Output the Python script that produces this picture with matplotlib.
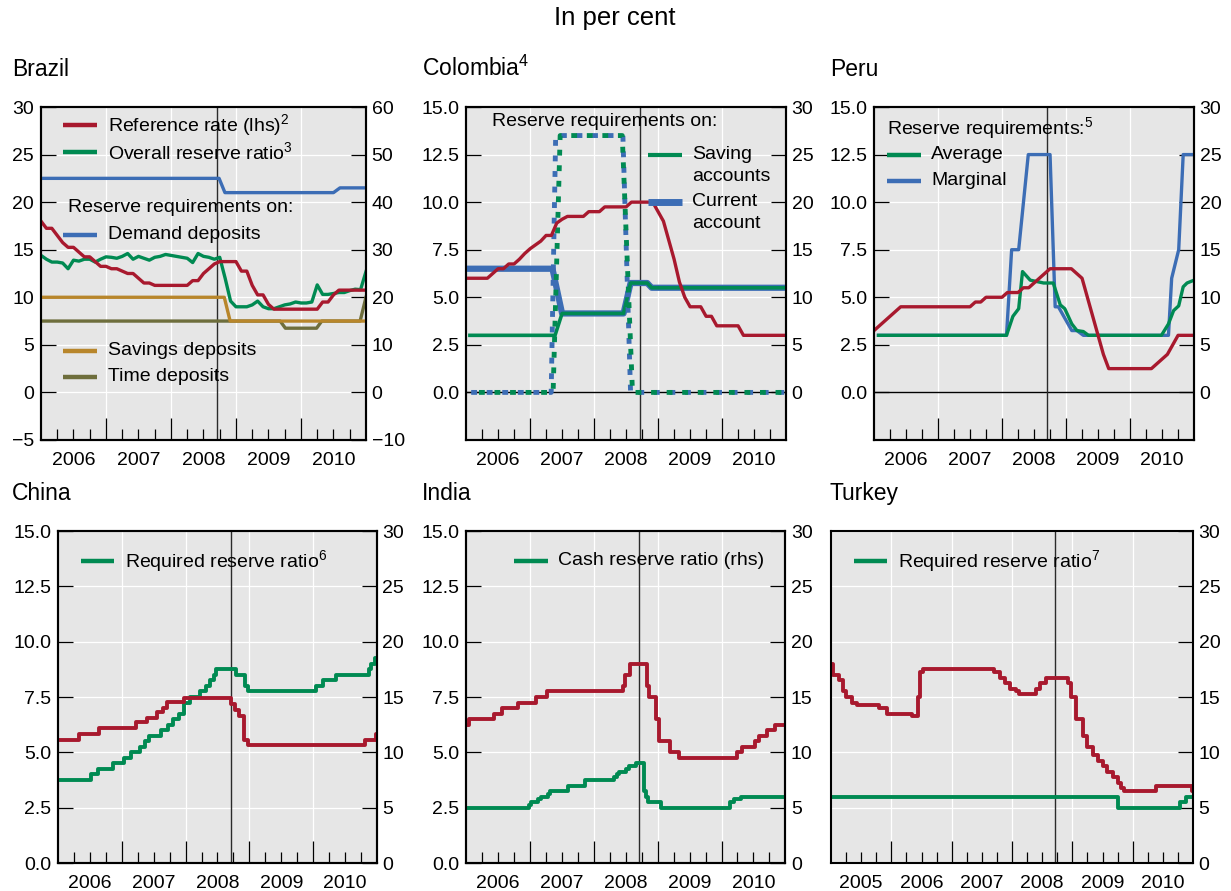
import numpy as np
import matplotlib
matplotlib.use("Agg")
import matplotlib.pyplot as plt

plt.rcParams["font.family"] = ["Liberation Sans", "DejaVu Sans"]
plt.rcParams["mathtext.fontset"] = "custom"
plt.rcParams["mathtext.rm"] = "Liberation Sans"

RED = "#A8192E"
GREEN = "#008A52"
BLUE = "#3C6DB5"
GOLD = "#B8862B"
OLIVE = "#6E6E3C"
BG = "#E6E6E6"
FS = 14
LEHMAN = 2008.71  # mid-September 2008

# ---------------- Brazil (monthly from Jan 2006) ----------------
brazil_reference_rate = [
    18.0, 17.25, 17.25, 16.5, 15.75, 15.25, 15.25, 14.75, 14.25, 14.25, 13.75, 13.25,
    13.25, 13.0, 13.0, 12.75, 12.5, 12.5, 12.0, 11.5, 11.5, 11.25, 11.25, 11.25,
    11.25, 11.25, 11.25, 11.25, 11.75, 11.75, 12.5, 13.0, 13.5, 13.75, 13.75, 13.75,
    13.75, 12.75, 12.75, 11.25, 10.25, 10.25, 9.25, 8.75, 8.75, 8.75, 8.75, 8.75,
    8.75, 8.75, 8.75, 8.75, 9.5, 9.5, 10.25, 10.75, 10.75, 10.75, 10.75, 10.75,
    10.75]
brazil_overall_reserve_ratio = [
    28.8, 28.0, 27.4, 27.4, 27.2, 26.0, 27.8, 27.6, 28.0, 28.0, 27.4, 28.0,
    28.5, 28.4, 28.2, 28.6, 29.2, 28.0, 28.6, 28.2, 27.8, 28.4, 28.6, 29.0,
    28.8, 28.6, 28.4, 28.2, 27.3, 29.2, 28.6, 28.4, 28.0, 28.4, 24.0, 19.2,
    18.0, 18.0, 18.0, 18.4, 19.2, 18.0, 17.6, 17.6, 18.0, 18.4, 18.6, 19.0,
    18.8, 18.8, 19.0, 22.6, 20.6, 20.6, 20.8, 21.0, 21.0, 21.4, 21.7, 21.6,
    25.4]
brazil_demand_dates = [2006.0, 2008.74, 2008.83, 2010.50, 2010.60, 2011.0]
brazil_demand = [45, 45, 42, 42, 43, 43]
brazil_savings_dates = [2006.0, 2008.82, 2008.91, 2011.0]
brazil_savings = [20, 20, 15, 15]
brazil_time_dates = [2006.0, 2009.68, 2009.76, 2010.24, 2010.32, 2010.91, 2011.0]
brazil_time = [15, 15, 13.5, 13.5, 15, 15, 20]

# ---------------- Colombia ----------------
colombia_policy_rate = [
    6.0, 6.0, 6.0, 6.0, 6.0, 6.25, 6.5, 6.5, 6.75, 6.75, 7.0, 7.3,
    7.55, 7.75, 7.95, 8.25, 8.25, 8.9, 9.1, 9.25, 9.25, 9.25, 9.25, 9.5,
    9.5, 9.5, 9.75, 9.75, 9.75, 9.75, 9.75, 10.0, 10.0, 10.0, 10.0, 10.0,
    9.5, 9.0, 8.0, 7.0, 5.8, 5.0, 4.5, 4.5, 4.5, 4.0, 4.0, 3.5,
    3.5, 3.5, 3.5, 3.5, 3.0, 3.0, 3.0, 3.0, 3.0, 3.0, 3.0, 3.0,
    3.0]
colombia_saving_dates = [2006.06, 2007.39, 2007.50, 2008.46, 2008.57, 2008.83, 2008.90, 2011.0]
colombia_saving = [6.0, 6.0, 8.3, 8.3, 11.5, 11.5, 11.0, 11.0]
colombia_current_dates = [2006.04, 2007.35, 2007.50, 2008.46, 2008.57, 2008.83, 2008.90, 2011.0]
colombia_current = [13.0, 13.0, 8.3, 8.3, 11.5, 11.5, 11.0, 11.0]
colombia_marg_current_dates = [2006.08, 2007.33, 2007.40, 2008.45, 2008.57, 2011.0]
colombia_marg_current = [0, 0, 27, 27, 0, 0]
colombia_marg_saving_dates = [2006.08, 2007.36, 2007.47, 2008.44, 2008.60, 2011.0]
colombia_marg_saving = [0, 0, 27, 27, 0, 0]

# ---------------- Peru ----------------
peru_policy_rate = [
    3.25, 3.5, 3.75, 4.0, 4.25, 4.5,
    4.5, 4.5, 4.5, 4.5, 4.5, 4.5, 4.5, 4.5, 4.5, 4.5, 4.5, 4.5, 4.5,
    4.75, 4.75, 5.0, 5.0, 5.0, 5.0,
    5.25, 5.25, 5.25, 5.5, 5.5, 5.75,
    6.0, 6.25, 6.5, 6.5, 6.5, 6.5, 6.5,
    6.25, 6.0, 5.0, 4.0, 3.0, 2.0,
    1.25, 1.25, 1.25, 1.25, 1.25, 1.25, 1.25, 1.25, 1.25,
    1.5, 1.75, 2.0, 2.5, 3.0, 3.0, 3.0, 3.0]
peru_average_dates = [2006.07, 2008.07, 2008.17, 2008.26, 2008.32, 2008.44, 2008.65, 2008.80,
                      2008.91, 2008.98, 2009.09, 2009.17, 2009.27, 2009.35, 2010.49, 2010.60,
                      2010.68, 2010.76, 2010.83, 2010.89, 2011.0]
peru_average = [6.0, 6.0, 8.0, 8.8, 12.7, 11.8, 11.5, 11.5,
                9.2, 8.8, 7.2, 6.5, 6.4, 6.0, 6.0, 7.2,
                8.6, 9.1, 11.1, 11.5, 11.8]
peru_marginal_dates = [2006.07, 2008.07, 2008.15, 2008.26, 2008.41, 2008.75, 2008.83, 2008.88,
                       2009.09, 2009.17, 2009.27, 2010.60, 2010.65, 2010.76, 2010.83, 2011.0]
peru_marginal = [6, 6, 15, 15, 25, 25, 9, 9,
                 6.5, 6.5, 6.0, 6.0, 12, 15, 25, 25]

# ---------------- China (step changes) ----------------
china_rate_dates = [2006.0, 2006.33, 2006.64, 2007.22, 2007.39, 2007.56, 2007.65, 2007.71,
                    2007.98, 2008.71, 2008.77, 2008.83, 2008.91, 2008.98, 2010.81, 2010.99]
china_rate = [5.58, 5.85, 6.12, 6.39, 6.57, 6.84, 7.02, 7.29,
              7.47, 7.20, 6.93, 6.66, 5.58, 5.31, 5.56, 5.81]
china_rrr_dates = [2006.0, 2006.51, 2006.62, 2006.87, 2007.04, 2007.15, 2007.29, 2007.37,
                   2007.43, 2007.62, 2007.73, 2007.81, 2007.90, 2007.98, 2008.07, 2008.23,
                   2008.32, 2008.38, 2008.45, 2008.48, 2008.79, 2008.93, 2008.98, 2010.05,
                   2010.15, 2010.36, 2010.88, 2010.91, 2010.97]
china_rrr = [7.5, 8.0, 8.5, 9.0, 9.5, 10.0, 10.5, 11.0,
             11.5, 12.0, 12.5, 13.0, 13.5, 14.5, 15.0, 15.5,
             16.0, 16.5, 17.0, 17.5, 17.0, 16.0, 15.5, 16.0,
             16.5, 17.0, 17.5, 18.0, 18.5]

# ---------------- India (step changes) ----------------
india_rate_dates = [2006.0, 2006.04, 2006.43, 2006.56, 2006.82, 2007.09, 2007.27, 2008.46,
                    2008.49, 2008.57, 2008.83, 2008.86, 2008.97, 2009.02, 2009.19, 2009.33,
                    2010.24, 2010.32, 2010.53, 2010.58, 2010.71, 2010.84]
india_rate = [6.25, 6.5, 6.75, 7.0, 7.25, 7.5, 7.75, 8.0,
              8.5, 9.0, 8.0, 7.5, 6.5, 5.5, 5.0, 4.75,
              5.0, 5.25, 5.5, 5.75, 6.0, 6.25]
india_crr_dates = [2006.0, 2006.98, 2007.02, 2007.13, 2007.17, 2007.28, 2007.32, 2007.59,
                   2007.86, 2008.32, 2008.36, 2008.40, 2008.51, 2008.55, 2008.66, 2008.78,
                   2008.81, 2008.85, 2009.05, 2010.13, 2010.20, 2010.31]
india_crr = [5.0, 5.25, 5.5, 5.75, 6.0, 6.25, 6.5, 7.0,
             7.5, 7.75, 8.0, 8.25, 8.5, 8.75, 9.0, 6.5,
             6.0, 5.5, 5.0, 5.5, 5.75, 6.0]

# ---------------- Turkey (step changes) ----------------
turkey_rate_dates = [2005.0, 2005.03, 2005.13, 2005.20, 2005.25, 2005.35, 2005.43, 2005.79,
                     2005.93, 2006.34, 2006.44, 2006.48, 2006.53, 2007.70, 2007.80, 2007.88,
                     2007.97, 2008.06, 2008.11, 2008.40, 2008.46, 2008.56, 2008.92, 2008.98,
                     2009.06, 2009.17, 2009.25, 2009.34, 2009.42, 2009.50, 2009.58, 2009.67,
                     2009.75, 2009.80, 2009.85, 2010.38, 2010.98]
turkey_rate = [18.0, 17.0, 16.5, 15.5, 15.0, 14.5, 14.25, 14.0,
               13.5, 13.25, 15.0, 17.25, 17.5, 17.25, 16.75, 16.25,
               15.75, 15.5, 15.25, 15.75, 16.25, 16.75, 16.25, 15.0,
               13.0, 11.5, 10.5, 9.75, 9.25, 8.75, 8.25, 7.75,
               7.25, 6.75, 6.5, 7.0, 6.5]
turkey_rrr_dates = [2005.0, 2009.75, 2010.78, 2010.88]
turkey_rrr = [6.0, 5.0, 5.5, 6.0]


# ---------------- helpers ----------------
def monthly(start, values):
    return start + np.arange(len(values)) / 12.0


def step_xy(dates, values, end):
    return list(dates) + [end], list(values) + [values[-1]]


def base_axes(fig, rect, x0, x1, ylim, lticks, llabels, right_only=False, zero_line=False):
    ax = fig.add_axes(rect)
    ax.set_facecolor(BG)
    ax.set_xlim(x0, x1)
    ax.set_ylim(*ylim)
    ax.set_xticks(np.arange(x0 + 1, x1))
    ax.set_xticks([y + q / 4 for y in range(x0, x1) for q in (1, 2, 3)], minor=True)
    ax.tick_params(axis="x", which="major", direction="in", length=16, width=0.9,
                   labelbottom=False, top=False)
    ax.tick_params(axis="x", which="minor", direction="in", length=8, width=0.9, top=False)
    ax.set_yticks(lticks)
    ax.set_yticklabels(llabels)
    if right_only:
        ax.yaxis.tick_right()
        ax.tick_params(axis="y", direction="in", length=11, width=0.9, labelsize=FS, pad=4,
                       left=False, right=True, labelleft=False, labelright=True)
    else:
        ax.tick_params(axis="y", direction="in", length=11, width=0.9, labelsize=FS, pad=5,
                       right=False)
    ax.grid(True, which="major", color="white", lw=0.9)
    ax.set_axisbelow(True)
    for s in ax.spines.values():
        s.set_linewidth(1.5)
    for y in range(x0, x1):
        ax.text(y + 0.5, -0.075, str(y), transform=ax.get_xaxis_transform(),
                ha="center", va="baseline", fontsize=FS)
    if zero_line:
        ax.axhline(0, color="black", lw=1.0, zorder=1)
    ax.axvline(LEHMAN, color="#2B2B2B", lw=1.0, zorder=1)
    return ax


def twin(ax, ylim, rticks, rlabels):
    ax2 = ax.twinx()
    ax2.set_ylim(*ylim)
    ax2.set_yticks(rticks)
    ax2.set_yticklabels(rlabels)
    ax2.tick_params(axis="y", direction="in", length=11, width=0.9, labelsize=FS, pad=4,
                    left=False)
    for s in ax2.spines.values():
        s.set_linewidth(1.5)
    return ax2


def key(ax, x0, x1, y, color, lw=3.2):
    ax.plot([x0, x1], [y, y], transform=ax.transAxes, color=color, lw=lw,
            solid_capstyle="butt", clip_on=False)


def label(ax, x, y, s):
    ax.text(x, y, s, transform=ax.transAxes, ha="left", va="center", fontsize=FS)


fig = plt.figure(figsize=(12.31, 8.91), dpi=100)
fig.text(0.4996, 1 - 18 / 891, "In per cent", ha="center", va="center", fontsize=18.5)

TOP = [0.5062, 0.3737]
BOT = [0.0314, 0.3726]
dec_ticks = [0, 2.5, 5, 7.5, 10, 12.5, 15]
dec_labels = ["%.1f" % v for v in dec_ticks]
r30_ticks = [0, 5, 10, 15, 20, 25, 30]
r30_labels = [str(v) for v in r30_ticks]

# ---- Brazil ----
ax = base_axes(fig, [0.0333, TOP[0], 0.2640, TOP[1]], 2006, 2011, (-5, 30),
               [-5, 0, 5, 10, 15, 20, 25, 30],
               ["\u22125", "0", "5", "10", "15", "20", "25", "30"])
ax2 = twin(ax, (-10, 60), [-10, 0, 10, 20, 30, 40, 50, 60],
           ["\u221210", "0", "10", "20", "30", "40", "50", "60"])
ax2.plot(brazil_time_dates, brazil_time, color=OLIVE, lw=2.4)
ax2.plot(brazil_savings_dates, brazil_savings, color=GOLD, lw=2.4)
ax2.plot(brazil_demand_dates, brazil_demand, color=BLUE, lw=2.4)
ax2.plot(monthly(2006, brazil_overall_reserve_ratio), brazil_overall_reserve_ratio, color=GREEN, lw=2.4)
ax2.plot(monthly(2006, brazil_reference_rate), brazil_reference_rate, color=RED, lw=2.4,
         transform=ax.transData)
key(ax2, 0.069, 0.1735, 0.945, RED); label(ax2, 0.205, 0.945, "Reference rate (lhs)$\\mathregular{^2}$")
key(ax2, 0.069, 0.1735, 0.865, GREEN); label(ax2, 0.205, 0.865, "Overall reserve ratio$\\mathregular{^3}$")
label(ax2, 0.082, 0.698, "Reserve requirements on:")
key(ax2, 0.069, 0.1735, 0.617, BLUE); label(ax2, 0.205, 0.617, "Demand deposits")
key(ax2, 0.069, 0.1735, 0.268, GOLD); label(ax2, 0.205, 0.268, "Savings deposits")
key(ax2, 0.069, 0.1735, 0.190, OLIVE); label(ax2, 0.205, 0.190, "Time deposits")
fig.text(12 / 1231, 1 - 76 / 891, "Brazil", fontsize=16.5, va="baseline")

# ---- Colombia ----
ax = base_axes(fig, [0.3786, TOP[0], 0.2600, TOP[1]], 2006, 2011, (-2.5, 15),
               dec_ticks, dec_labels, zero_line=True)
ax2 = twin(ax, (-5, 30), r30_ticks, r30_labels)
ax2.plot(colombia_current_dates, colombia_current, color=BLUE, lw=4.5)
ax2.plot(colombia_saving_dates, colombia_saving, color=GREEN, lw=2.6)
ax2.plot(colombia_marg_current_dates, colombia_marg_current, color=BLUE, lw=3.5,
         linestyle=(0, (1.2, 2.0)), dash_capstyle="butt")
ax2.plot(colombia_marg_saving_dates, colombia_marg_saving, color=GREEN, lw=3.5,
         linestyle=(1.6, (1.2, 2.0)), dash_capstyle="butt")
ax2.plot(monthly(2006, colombia_policy_rate), colombia_policy_rate, color=RED, lw=2.4,
         transform=ax.transData)
label(ax2, 0.080, 0.955, "Reserve requirements on:")
key(ax2, 0.570, 0.675, 0.857, GREEN, lw=3.0)
label(ax2, 0.706, 0.857, "Saving"); label(ax2, 0.706, 0.790, "accounts")
key(ax2, 0.570, 0.675, 0.715, BLUE, lw=5.0)
label(ax2, 0.706, 0.715, "Current"); label(ax2, 0.706, 0.650, "account")
fig.text(422 / 1231, 1 - 76 / 891, "Colombia$\\mathregular{^4}$", fontsize=16.5, va="baseline")

# ---- Peru ----
ax = base_axes(fig, [0.7100, TOP[0], 0.2600, TOP[1]], 2006, 2011, (-2.5, 15),
               dec_ticks, dec_labels, zero_line=True)
ax2 = twin(ax, (-5, 30), r30_ticks, r30_labels)
ax2.plot(peru_marginal_dates, peru_marginal, color=BLUE, lw=2.4)
ax2.plot(peru_average_dates, peru_average, color=GREEN, lw=2.4)
ax2.plot(monthly(2006, peru_policy_rate), peru_policy_rate, color=RED, lw=2.4,
         transform=ax.transData)
label(ax2, 0.040, 0.938, "Reserve requirements:$\\mathregular{^5}$")
key(ax2, 0.040, 0.146, 0.857, GREEN); label(ax2, 0.178, 0.857, "Average")
key(ax2, 0.040, 0.146, 0.778, BLUE); label(ax2, 0.178, 0.778, "Marginal")
fig.text(830 / 1231, 1 - 76 / 891, "Peru", fontsize=16.5, va="baseline")

# ---- China ----
ax = base_axes(fig, [0.0471, BOT[0], 0.2591, BOT[1]], 2006, 2011, (0, 15),
               dec_ticks, dec_labels)
ax2 = twin(ax, (0, 30), r30_ticks, r30_labels)
x, y = step_xy(china_rrr_dates, china_rrr, 2011.0)
ax2.step(x, y, where="post", color=GREEN, lw=2.8)
x, y = step_xy(china_rate_dates, china_rate, 2011.0)
ax2.step(x, y, where="post", color=RED, lw=2.8, transform=ax.transData)
key(ax2, 0.072, 0.177, 0.91, GREEN); label(ax2, 0.209, 0.91, "Required reserve ratio$\\mathregular{^6}$")
fig.text(12 / 1231, 1 - 500 / 891, "China", fontsize=16.5, va="baseline")

# ---- India ----
ax = base_axes(fig, [0.3786, BOT[0], 0.2594, BOT[1]], 2006, 2011, (0, 15),
               dec_ticks, dec_labels)
ax2 = twin(ax, (0, 30), r30_ticks, r30_labels)
x, y = step_xy(india_crr_dates, india_crr, 2011.0)
ax2.step(x, y, where="post", color=GREEN, lw=2.8)
x, y = step_xy(india_rate_dates, india_rate, 2011.0)
ax2.step(x, y, where="post", color=RED, lw=2.8, transform=ax.transData)
key(ax2, 0.151, 0.256, 0.91, GREEN); label(ax2, 0.288, 0.91, "Cash reserve ratio (rhs)")
fig.text(422 / 1231, 1 - 500 / 891, "India", fontsize=16.5, va="baseline")

# ---- Turkey ----
ax = base_axes(fig, [0.6751, BOT[0], 0.2941, BOT[1]], 2005, 2011, (0, 30),
               r30_ticks, r30_labels, right_only=True)
x, y = step_xy(turkey_rrr_dates, turkey_rrr, 2011.0)
ax.step(x, y, where="post", color=GREEN, lw=2.8)
x, y = step_xy(turkey_rate_dates, turkey_rate, 2011.0)
ax.step(x, y, where="post", color=RED, lw=2.8)
key(ax, 0.0625, 0.154, 0.91, GREEN); label(ax, 0.185, 0.91, "Required reserve ratio$\\mathregular{^7}$")
fig.text(830 / 1231, 1 - 500 / 891, "Turkey", fontsize=16.5, va="baseline")

fig.savefig("out.png", dpi=100)
